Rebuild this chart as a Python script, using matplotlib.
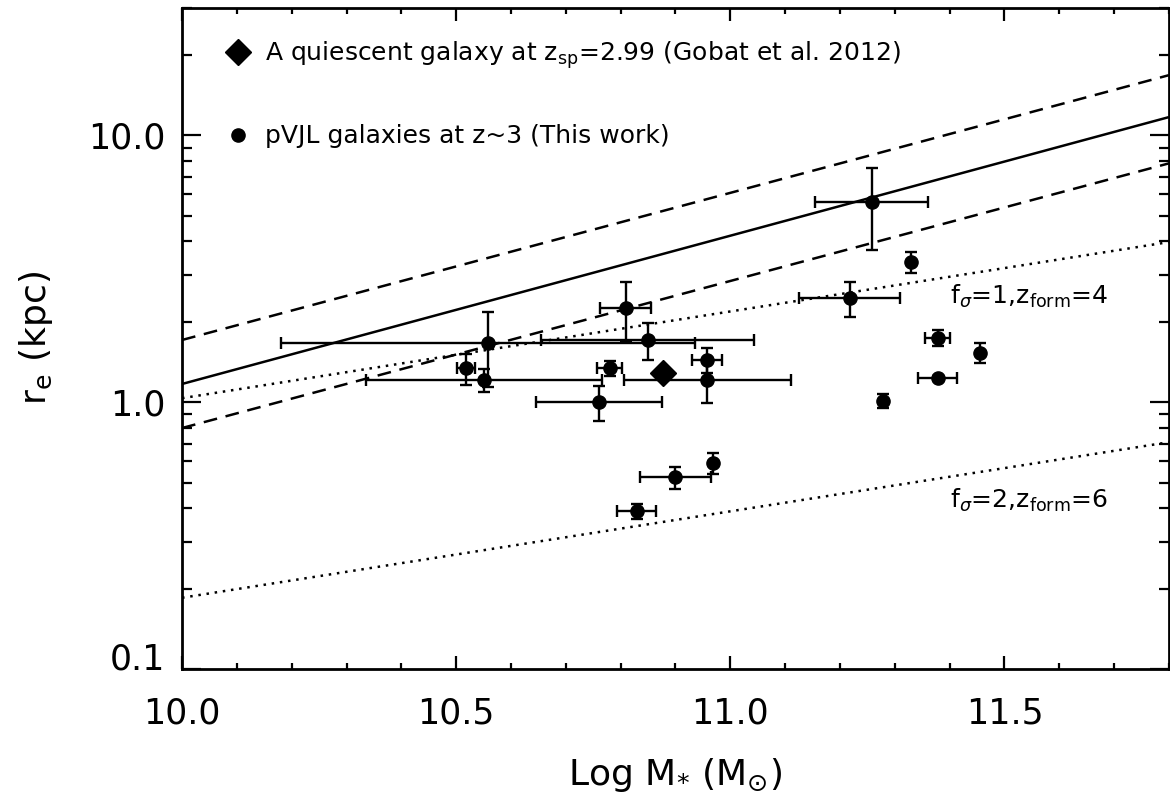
"""Size-mass relation of quiescent galaxies at z~3 (re vs log stellar mass)."""
import matplotlib
matplotlib.use("Agg")
import matplotlib.pyplot as plt
from matplotlib.lines import Line2D
from matplotlib.ticker import FixedLocator, FixedFormatter, LogLocator, NullFormatter, MultipleLocator

plt.rcParams["font.family"] = ["DejaVu Sans"]
plt.rcParams["mathtext.fontset"] = "dejavusans"

# pVJL galaxies at z~3 (this work)
log_mass = [10.518, 10.551, 10.558, 10.760, 10.780, 10.809, 10.829, 10.849, 10.900, 10.958,
            10.958, 10.969, 11.218, 11.258, 11.278, 11.329, 11.378, 11.378, 11.456]
r_e = [1.34, 1.21, 1.66, 1.00, 1.34, 2.25, 0.391, 1.71, 0.524, 1.44,
       1.21, 0.591, 2.45, 5.61, 1.01, 3.35, 1.74, 1.23, 1.53]
mass_err = [0.016, 0.215, 0.378, 0.115, 0.023, 0.047, 0.035, 0.195, 0.065, 0.027,
            0.152, 0.0, 0.092, 0.103, 0.0, 0.0, 0.023, 0.035, 0.0]
r_e_err = [0.18, 0.12, 0.52, 0.15, 0.09, 0.57, 0.025, 0.27, 0.05, 0.15,
           0.22, 0.055, 0.37, 1.90, 0.06, 0.30, 0.12, 0.02, 0.13]

# Gobat et al. 2012 quiescent galaxy
gobat_mass = [10.878]
gobat_re = [1.29]

# relations (end points on the mass range)
line_mass = [10.0, 11.8]
local_re = [1.17, 11.7]
local_re_hi = [1.71, 16.8]
local_re_lo = [0.80, 7.85]
model1_re = [1.035, 3.98]
model2_re = [0.185, 0.708]

x_ticks = [10.0, 10.5, 11.0, 11.5]
x_labels = ["10.0", "10.5", "11.0", "11.5"]
y_ticks = [0.1, 1.0, 10.0]
y_labels = ["0.1", "1.0", "10.0"]

fig = plt.figure(figsize=(11.7, 7.96), dpi=100)
ax = fig.add_axes([0.1556, 0.1595, 0.8435, 0.8305])

ax.plot(line_mass, local_re, color="k", lw=1.8, solid_capstyle="butt")
ax.plot(line_mass, local_re_hi, color="k", lw=1.8, ls=(0, (5.5, 3.5)))
ax.plot(line_mass, local_re_lo, color="k", lw=1.8, ls=(0, (5.5, 3.5)))
ax.plot(line_mass, model1_re, color="k", lw=1.8, ls=(0, (1, 2.3)))
ax.plot(line_mass, model2_re, color="k", lw=1.8, ls=(0, (1, 2.3)))

ax.errorbar(log_mass, r_e, xerr=mass_err, yerr=r_e_err, fmt="o", color="k", ms=9.5,
            elinewidth=1.7, capsize=4.5, capthick=1.7, zorder=4)
ax.plot(gobat_mass, gobat_re, "D", color="k", ms=13, zorder=5)

ax.set_yscale("log")
ax.set_xlim(10.0, 11.8)
ax.set_ylim(0.1, 30)

ax.xaxis.set_major_locator(FixedLocator(x_ticks))
ax.xaxis.set_major_formatter(FixedFormatter(x_labels))
ax.xaxis.set_minor_locator(MultipleLocator(0.1))
ax.yaxis.set_major_locator(FixedLocator(y_ticks))
ax.yaxis.set_major_formatter(FixedFormatter(y_labels))
ax.yaxis.set_minor_locator(LogLocator(base=10, subs=range(2, 10)))
ax.yaxis.set_minor_formatter(NullFormatter())

ax.tick_params(axis="both", which="both", direction="in", top=True, right=True,
               width=1.6, labelsize=25, colors="k")
ax.tick_params(axis="x", which="major", length=9.5, pad=20)
ax.tick_params(axis="x", which="minor", length=4.5)
ax.tick_params(axis="y", which="major", length=14, pad=12)
ax.tick_params(axis="y", which="minor", length=7)
for s in ax.spines.values():
    s.set_linewidth(2.0)

# IDL keeps the bottom y label above the x axis
ax.get_yticklabels()[0].set_verticalalignment("baseline")

ax.set_xlabel(r"Log M$_{*}$ (M$_{\odot}$)", fontsize=26, labelpad=18)
ax.set_ylabel(r"r$_{\mathrm{e}}$ (kpc)", fontsize=26, labelpad=24)

ax.text(11.40, 2.49, r"f$_{\sigma}$=1,z$_{\mathrm{form}}$=4", fontsize=18,
        ha="left", va="center")
ax.text(11.40, 0.43, r"f$_{\sigma}$=2,z$_{\mathrm{form}}$=6", fontsize=18,
        ha="left", va="center")

handles = [
    Line2D([], [], marker="D", ls="", color="k", ms=13,
           label=r"A quiescent galaxy at z$_{\mathrm{sp}}$=2.99 (Gobat et al. 2012)"),
    Line2D([], [], marker="o", ls="", color="k", ms=9.5,
           label=r"pVJL galaxies at z~3 (This work)"),
]
ax.legend(handles=handles, loc="upper left", bbox_to_anchor=(0.0446, 0.953),
          frameon=False, fontsize=18, handlelength=0.95, handletextpad=0.6,
          labelspacing=2.15, borderpad=0, borderaxespad=0)

fig.savefig("out.png", dpi=100)
